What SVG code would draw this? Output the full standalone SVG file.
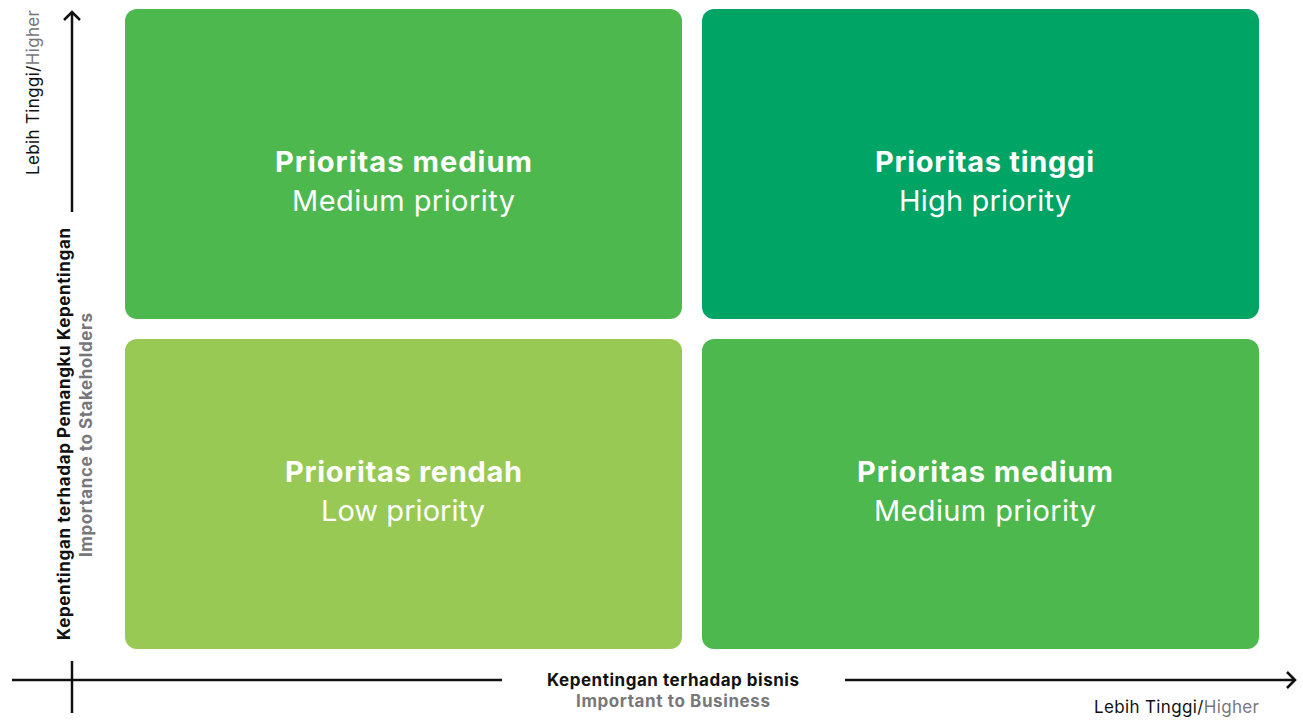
<svg xmlns="http://www.w3.org/2000/svg" width="1303" height="720" viewBox="0 0 1303 720">
<defs>
<style>
.box text{font-family:Inter,"Liberation Sans",sans-serif;fill:#fff;text-anchor:middle;font-size:29px}
.t{font-weight:700}
.s{font-weight:400}
.ax{stroke:#111;stroke-width:2.5;fill:none}
.lbl{font-family:Inter,"Liberation Sans",sans-serif;font-size:17px;fill:#111}
.b{font-weight:700}
.g{fill:#77777b}
</style>
</defs>
<rect width="1303" height="720" fill="#fff"/>
<g id="q-medium-top" class="box">
<rect x="125" y="9" width="557" height="310" rx="12" fill="#4db84e"/>
<text class="t" x="403.5" y="172" textLength="257">Prioritas medium</text>
<text class="s" x="403.5" y="211" textLength="223">Medium priority</text>
</g>
<g id="q-high" class="box">
<rect x="702" y="9" width="557" height="310" rx="12" fill="#00a464"/>
<text class="t" x="984.5" y="172" textLength="219">Prioritas tinggi</text>
<text class="s" x="985" y="211" textLength="172">High priority</text>
</g>
<g id="q-low" class="box">
<rect x="125" y="339" width="557" height="310" rx="12" fill="#97c954"/>
<text class="t" x="403.5" y="482" textLength="237">Prioritas rendah</text>
<text class="s" x="403" y="521" textLength="164">Low priority</text>
</g>
<g id="q-medium-bottom" class="box">
<rect x="702" y="339" width="557" height="310" rx="12" fill="#4db84e"/>
<text class="t" x="985" y="482" textLength="256">Prioritas medium</text>
<text class="s" x="985" y="521" textLength="222">Medium priority</text>
</g>
<g id="axes">
<path class="ax" d="M72 212V12M64 20L72 12L80 20"/>
<path class="ax" d="M72 661V713"/>
<path class="ax" d="M12 680H502"/>
<path class="ax" d="M845 680H1295M1287 672L1295 680L1287 688"/>
</g>
<g id="y-labels">
<text class="lbl" transform="translate(39 92.5) rotate(-90)" text-anchor="middle" textLength="165">Lebih Tinggi/<tspan class="g">Higher</tspan></text>
<text class="lbl b" transform="translate(70 434) rotate(-90)" text-anchor="middle" textLength="412">Kepentingan terhadap Pemangku Kepentingan</text>
<text class="lbl b g" transform="translate(92 435) rotate(-90)" text-anchor="middle" textLength="244">Importance to Stakeholders</text>
</g>
<g id="x-labels">
<text class="lbl b" x="673" y="686" text-anchor="middle" textLength="252">Kepentingan terhadap bisnis</text>
<text class="lbl b g" x="673" y="707" text-anchor="middle" textLength="194">Important to Business</text>
<text class="lbl" x="1176.5" y="713" text-anchor="middle" textLength="165">Lebih Tinggi/<tspan class="g">Higher</tspan></text>
</g>
</svg>
